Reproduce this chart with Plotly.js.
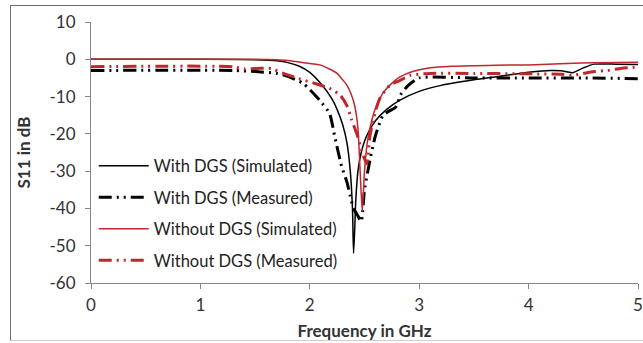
<!DOCTYPE html>
<html>
<head>
<meta charset="utf-8">
<script src="https://cdn.plot.ly/plotly-3.0.1.min.js"></script>
<style>
html,body{margin:0;padding:0;background:#fff;}
#wrap{position:relative;width:643px;height:343px;}
#chart{width:643px;height:343px;}
#frame{position:absolute;left:10px;top:5px;width:640px;height:334px;border-left:1px solid #6e6e6e;border-top:1px solid #6e6e6e;border-bottom:1px solid #cfcfcf;pointer-events:none;}
</style>
</head>
<body>
<div id="wrap"><div id="chart"></div><div id="frame"></div></div>
<script>
// With DGS (Simulated)
const withSimX = [0, 1, 1.5, 1.7, 1.8, 1.9, 2.0, 2.1, 2.2, 2.25, 2.3, 2.34, 2.37, 2.39, 2.4, 2.41, 2.42, 2.44, 2.47, 2.52, 2.6, 2.7, 2.82, 3.0, 3.2, 3.5, 3.8, 4.0, 4.2, 4.3, 4.4, 4.5, 4.6, 4.8, 5.0];
const withSimY = [0, 0, -0.1, -0.4, -0.9, -1.8, -3.5, -6.5, -10.5, -13.5, -17.5, -22.5, -30, -40, -52, -46, -38, -30, -25, -20.5, -16.5, -13.5, -11, -8.6, -7, -5.5, -4.3, -3.5, -3, -3.1, -3.6, -2.3, -1.3, -1.3, -1.4];
// With DGS (Measured)
const withMeasX = [0, 1.3, 1.5, 1.7, 1.8, 1.94, 2.09, 2.18, 2.23, 2.29, 2.34, 2.37, 2.4, 2.44, 2.47, 2.5, 2.55, 2.6, 2.67, 2.75, 2.78, 2.8, 2.83, 2.9, 3.0, 3.5, 4.0, 4.5, 5.0];
const withMeasY = [-3, -3, -3.3, -3.8, -4.6, -6.5, -11, -14.5, -21, -28.6, -33, -36.7, -40, -42, -43.5, -35, -27, -20.5, -15, -13.5, -13, -12, -9.5, -7, -5, -5, -5, -5, -5.2];
// Without DGS (Simulated)
const withoutSimX = [0, 1, 1.5, 1.8, 1.97, 2.09, 2.18, 2.25, 2.3, 2.34, 2.38, 2.41, 2.44, 2.46, 2.48, 2.5, 2.53, 2.57, 2.61, 2.67, 2.73, 2.82, 2.94, 3.1, 3.3, 3.7, 4.0, 4.35, 4.6, 5.0];
const withoutSimY = [0, 0, 0, -0.3, -1, -1.5, -2.6, -3.8, -5.5, -7, -9.5, -12.4, -18.5, -30, -40.8, -30, -21.4, -16, -12.4, -9, -7, -4.8, -3.3, -2.3, -1.9, -1.6, -1.5, -1.1, -0.9, -0.8];
// Without DGS (Measured)
const withoutMeasX = [0, 1.3, 1.4, 1.55, 1.65, 1.76, 1.9, 2.05, 2.18, 2.28, 2.34, 2.38, 2.43, 2.47, 2.52, 2.55, 2.6, 2.64, 2.73, 2.82, 2.92, 3.1, 3.5, 4.0, 4.3, 4.4, 4.5, 4.6, 4.72, 4.85, 5.0];
const withoutMeasY = [-2, -2, -2.6, -2.4, -2.5, -3.8, -5.2, -6.5, -7.8, -9.7, -12.5, -16, -20, -24, -28, -20.5, -14, -10.5, -7, -5.7, -4.3, -3.8, -3.8, -3.9, -4, -4.3, -3.8, -3.3, -3, -2.4, -2.1];

const seriesNames = ["With DGS (Simulated)", "With DGS (Measured)", "Without DGS (Simulated)", "Without DGS (Measured)"];
const xTicks = [0, 1, 2, 3, 4, 5];
const yTicks = [10, 0, -10, -20, -30, -40, -50, -60];

const BLACK = "#000000", RED = "#c0272d";
const LDDD = "13px,5px,2px,5px,2px,5px";
const FONT = "Lato, 'Open Sans', sans-serif";

const traces = [
  {x: withSimX, y: withSimY, name: seriesNames[0], legendgroup: "a", line: {color: BLACK, width: 1.5}},
  {x: withMeasX, y: withMeasY, name: seriesNames[1], legendgroup: "b", line: {color: BLACK, width: 3, dash: LDDD}},
  {x: withoutSimX, y: withoutSimY, name: seriesNames[2], legendgroup: "c", line: {color: RED, width: 1.5}},
  {x: withoutMeasX, y: withoutMeasY, name: seriesNames[3], legendgroup: "d", line: {color: RED, width: 3, dash: LDDD}}
].map(t => Object.assign({type: "scatter", mode: "lines"}, t, {line: Object.assign({shape: "spline", smoothing: 0.6}, t.line)}));

const axisCommon = {
  showgrid: false, zeroline: false, showline: true, linecolor: "#868686", linewidth: 1,
  ticks: "outside", ticklen: 5, tickcolor: "#868686", tickwidth: 1,
  tickfont: {family: FONT, size: 17, color: "#333333"}
};

const layout = {
  width: 643, height: 343,
  margin: {l: 91, r: 5, t: 22, b: 60},
  paper_bgcolor: "#ffffff", plot_bgcolor: "#ffffff",
  showlegend: true,
  legend: {
    x: 0.005, y: 0.515, xanchor: "left", yanchor: "top",
    bgcolor: "rgba(0,0,0,0)", traceorder: "grouped", tracegroupgap: 7,
    itemwidth: 50,
    font: {family: FONT, size: 16.5, color: "#222222"}
  },
  xaxis: Object.assign({}, axisCommon, {
    range: [0, 5], tickvals: xTicks, ticktext: xTicks.map(String), ticklabelstandoff: 2,
    title: {text: "<b>Frequency in GHz</b>", font: {family: FONT, size: 17, color: "#333333"}, standoff: 10}
  }),
  yaxis: Object.assign({}, axisCommon, {
    range: [-60, 10], tickvals: yTicks, ticktext: yTicks.map(String), ticklabelstandoff: 6,
    title: {text: "<b>S11 in dB</b>", font: {family: FONT, size: 17, color: "#333333"}, standoff: 14}
  })
};

Plotly.newPlot("chart", traces, layout, {displayModeBar: false, staticPlot: true});
</script>
</body>
</html>
